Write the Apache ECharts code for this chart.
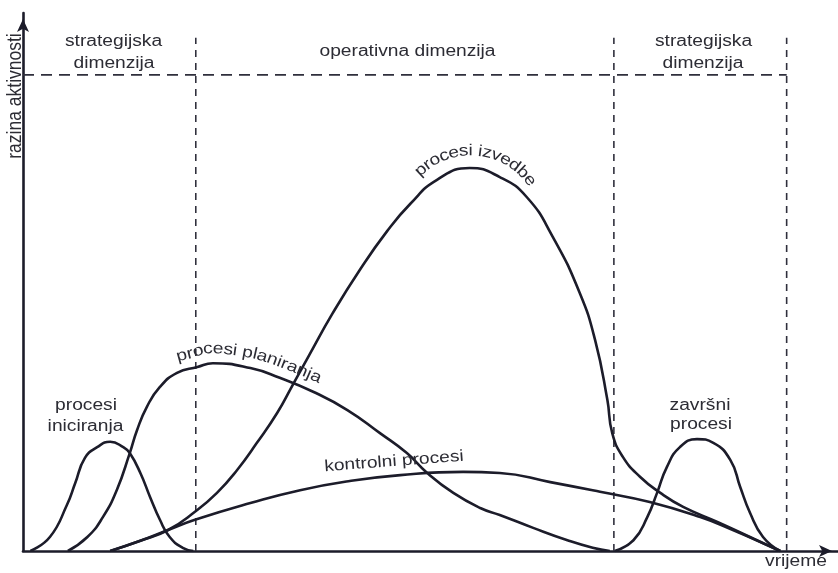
<!DOCTYPE html>
<html>
<head>
<meta charset="utf-8">
<script src="https://cdn.jsdelivr.net/npm/echarts@6/dist/echarts.min.js"></script>
<style>
html,body{margin:0;padding:0;background:#ffffff;}
#c{width:838px;height:573px;}
</style>
</head>
<body>
<div id="c"></div>
<script>
// ---- data (time 0..100, activity level 0..100) ----
const timeIniciranja  = [0.9, 3.3, 5.4, 6.4, 7.6, 9.1, 10.7, 12.3, 13.1, 14.4, 15.6, 16.8, 18.0, 19.6, 20.9];
const levelIniciranja = [0, 2.6, 8.6, 12.6, 17.3, 19.3, 20.3, 19.3, 18.2, 14.5, 10.0, 5.8, 2.6, 0.6, 0];

const timePlaniranja  = [5.5, 7.9, 9.8, 11.5, 13.1, 14.0, 15.2, 16.8, 18.9, 21.4, 23.3, 27.9, 31.5, 35.6, 39.8, 43.8, 47.1, 49.6, 52.8, 56.1, 58.5, 62.6, 66.8, 69.9, 72.0];
const levelPlaniranja = [0, 2.6, 6.3, 11.3, 18.2, 22.5, 26.8, 30.5, 33.1, 34.2, 34.9, 34.0, 32.2, 29.6, 26.2, 21.9, 18.2, 14.5, 10.8, 8.0, 6.7, 4.3, 2.0, 0.6, 0];

const timeIzvedbe  = [10.7, 14.4, 17.8, 21.1, 23.8, 26.3, 28.7, 31.2, 33.1, 35.0, 38.0, 41.3, 44.7, 47.5, 50.8, 54.8, 58.5, 61.8, 65.0, 68.3, 70.2, 71.7, 72.3, 73.6, 75.7, 78.2, 81.0, 85.2, 89.2, 92.9];
const levelIzvedbe = [0, 1.9, 3.9, 7.3, 10.8, 15.1, 20.1, 25.7, 30.9, 36.1, 44.2, 52.2, 59.5, 64.5, 69.0, 71.2, 69.5, 65.8, 58.4, 48.0, 39.2, 28.1, 21.9, 17.5, 13.8, 10.8, 8.2, 5.4, 2.6, 0];

const timeKontrolni  = [10.7, 14.4, 17.8, 21.1, 27.9, 34.0, 40.1, 46.3, 54.0, 58.5, 64.7, 70.8, 76.9, 83.1, 87.1, 91.3, 92.9];
const levelKontrolni = [0, 1.9, 3.9, 5.8, 8.9, 11.3, 13.0, 14.1, 14.7, 14.5, 12.8, 11.0, 9.1, 6.3, 3.9, 1.1, 0];

const timeZavrsni  = [72.6, 74.9, 76.6, 77.8, 79.0, 80.6, 82.7, 84.7, 86.8, 88.0, 89.2, 90.8, 92.9];
const levelZavrsni = [0, 2.0, 6.3, 10.8, 15.6, 19.3, 20.8, 20.1, 16.9, 11.9, 7.1, 2.6, 0];

const phaseBoundaries = [21.2, 72.5, 93.7];
const boundaryTop = 95.4;
const dimensionLevel = 88.5;

// ---- texts ----
const axisNameY = 'razina aktivnosti';
const axisNameX = 'vrijeme';
const labelStrategic = ['strategijska', 'dimenzija'];
const labelOperative = 'operativna dimenzija';
const labelIniciranja = ['procesi', 'iniciranja'];
const labelZavrsni = ['završni', 'procesi'];
const labelPlaniranja = 'procesi planiranja';
const labelIzvedbe = 'procesi izvedbe';
const labelKontrolni = 'kontrolni procesi';

// ---- styles ----
const INK = '#1c1c2a';
const DASH = '#2f2f3c';
const TXT = '#2c2c34';
const FAM = '"Liberation Sans", Arial, Helvetica, sans-serif';
const FS = 16;
const SX = 1.2;

const chart = echarts.init(document.getElementById('c'), null, {renderer: 'canvas'});

function pairs(xs, ys) { return xs.map((x, i) => [x, ys[i]]); }

function curve(name, xs, ys) {
  return {
    name, type: 'line', data: pairs(xs, ys), smooth: 0.5,
    symbol: 'none', silent: true, z: 3,
    lineStyle: {color: INK, width: 2.6}
  };
}
function dashed(data, dash) {
  return {
    type: 'line', data, symbol: 'none', silent: true, z: 2,
    lineStyle: {color: DASH, width: 1.6, type: dash}
  };
}

const axisCommon = {
  type: 'value', min: 0, max: 100,
  axisLine: {show: true, onZero: true, symbol: ['none', 'arrow'], symbolSize: [9, 13], symbolOffset: [0, -6],
    lineStyle: {color: INK, width: 2.6}},
  axisTick: {show: false}, axisLabel: {show: false}, splitLine: {show: false}
};

const series = [];
phaseBoundaries.forEach(b => series.push(dashed([[b, 0], [b, boundaryTop]], [7, 6])));
series.push(dashed([[0, dimensionLevel], [phaseBoundaries[2], dimensionLevel]], [11, 7]));
series.push(curve('procesi iniciranja', timeIniciranja, levelIniciranja));
series.push(curve('procesi planiranja', timePlaniranja, levelPlaniranja));
series.push(curve('procesi izvedbe', timeIzvedbe, levelIzvedbe));
series.push(curve('kontrolni procesi', timeKontrolni, levelKontrolni));
series.push(curve('završni procesi', timeZavrsni, levelZavrsni));

chart.setOption({
  animation: false,
  backgroundColor: '#ffffff',
  grid: {left: 23, right: 0, top: 13, bottom: 22},
  xAxis: axisCommon,
  yAxis: axisCommon,
  series
});

// ---- text helpers ----
function txt(str, x, y, o) {
  o = o || {};
  return {
    type: 'text', x, y, rotation: o.rotation || 0, scaleX: o.scaleX || SX, scaleY: o.scaleY || 1,
    silent: true, z: 20,
    style: {text: str, font: (o.size || FS) + 'px ' + FAM, fill: TXT,
      align: 'center', verticalAlign: 'middle', textAlign: 'center', textVerticalAlign: 'middle'}
  };
}

const mctx = document.createElement('canvas').getContext('2d');
function charWidths(str, size, sx) {
  mctx.font = size + 'px ' + FAM;
  return Array.from(str).map(ch => mctx.measureText(ch).width * sx);
}

function pathCum(pts) {
  const cum = [0];
  for (let i = 1; i < pts.length; i++) {
    cum.push(cum[i - 1] + Math.hypot(pts[i][0] - pts[i - 1][0], pts[i][1] - pts[i - 1][1]));
  }
  return cum;
}
function pointAt(pts, cum, s) {
  if (s <= 0) {
    const d = [pts[1][0] - pts[0][0], pts[1][1] - pts[0][1]], L = Math.hypot(d[0], d[1]) || 1;
    return [pts[0][0] + d[0] / L * s, pts[0][1] + d[1] / L * s];
  }
  for (let i = 1; i < pts.length; i++) {
    if (cum[i] >= s) {
      const t = (s - cum[i - 1]) / ((cum[i] - cum[i - 1]) || 1);
      return [pts[i - 1][0] + (pts[i][0] - pts[i - 1][0]) * t, pts[i - 1][1] + (pts[i][1] - pts[i - 1][1]) * t];
    }
  }
  return pts[pts.length - 1];
}
function layoutOnPath(str, pts, anchorS) {
  const cum = pathCum(pts);
  const ws = charWidths(str, FS, SX);
  const total = ws.reduce((a, b) => a + b, 0);
  let s = anchorS - total / 2;
  const out = [];
  Array.from(str).forEach((ch, i) => {
    const sc = s + ws[i] / 2;
    const p = pointAt(pts, cum, sc);
    const a = pointAt(pts, cum, sc - 6), b = pointAt(pts, cum, sc + 6);
    const ang = Math.atan2(b[1] - a[1], b[0] - a[0]);
    if (ch !== ' ') out.push(txt(ch, p[0], p[1], {rotation: -ang}));
    s += ws[i];
  });
  return out;
}

// dense catmull-rom through pixel points (label path only)
function densify(pts, n) {
  const out = [];
  for (let i = 0; i < pts.length - 1; i++) {
    const p0 = pts[Math.max(0, i - 1)], p1 = pts[i], p2 = pts[i + 1], p3 = pts[Math.min(pts.length - 1, i + 2)];
    for (let k = 0; k < n; k++) {
      const t = k / n, t2 = t * t, t3 = t2 * t;
      const f = (a, b, c, d) => 0.5 * ((2 * b) + (-a + c) * t + (2 * a - 5 * b + 4 * c - d) * t2 + (-a + 3 * b - 3 * c + d) * t3);
      out.push([f(p0[0], p1[0], p2[0], p3[0]), f(p0[1], p1[1], p2[1], p3[1])]);
    }
  }
  out.push(pts[pts.length - 1]);
  return out;
}

function buildGraphics() {
  const toPx = (x, y) => chart.convertToPixel({gridIndex: 0}, [x, y]);
  const g = [];

  // top dimension titles
  g.push(txt(labelStrategic[0], 113.5, 41.5));
  g.push(txt(labelStrategic[1], 114, 63.5));
  g.push(txt(labelOperative, 407.5, 52));
  g.push(txt(labelStrategic[0], 703.5, 41.5));
  g.push(txt(labelStrategic[1], 703, 63.5));

  // axis names
  g.push(txt(axisNameY, 15.5, 96, {rotation: Math.PI / 2, size: 17.5, scaleX: 1, scaleY: 1.2}));
  g.push(txt(axisNameX, 796, 562));

  // bell labels
  g.push(txt(labelIniciranja[0], 86, 405.5));
  g.push(txt(labelIniciranja[1], 85.5, 426.5));
  g.push(txt(labelZavrsni[0], 700, 406));
  g.push(txt(labelZavrsni[1], 701, 425));

  // kontrolni procesi (slightly tilted)
  g.push(txt(labelKontrolni, 394, 461.5, {rotation: 0.075}));

  // procesi planiranja: along the curve, offset above it
  const planPx = densify(pairs(timePlaniranja, levelPlaniranja).map(p => toPx(p[0], p[1])), 12);
  const off = 14.5;
  const offPts = planPx.map((p, i) => {
    const a = planPx[Math.max(0, i - 3)], b = planPx[Math.min(planPx.length - 1, i + 3)];
    const dx = b[0] - a[0], dy = b[1] - a[1], L = Math.hypot(dx, dy) || 1;
    return [p[0] + dy / L * off, p[1] - dx / L * off];
  });
  const anchorPx = toPx(27.2, 0)[0];
  let ai = 0;
  for (let i = 0; i < planPx.length; i++) { if (planPx[i][0] >= anchorPx) { ai = i; break; } }
  const offCum = pathCum(offPts);
  layoutOnPath(labelPlaniranja, offPts, offCum[ai]).forEach(e => g.push(e));

  // procesi izvedbe: arc over the peak
  let pk = 0;
  levelIzvedbe.forEach((v, i) => { if (v > levelIzvedbe[pk]) pk = i; });
  const peak = toPx(timeIzvedbe[pk], levelIzvedbe[pk]);
  const R = 74, cx = peak[0] + 1, cy = peak[1] + 57;
  const arc = [];
  for (let d = -90; d <= 90; d += 1) {
    const t = d * Math.PI / 180;
    arc.push([cx + R * Math.sin(t), cy - R * Math.cos(t)]);
  }
  layoutOnPath(labelIzvedbe, arc, R * (95.4 * Math.PI / 180)).forEach(e => g.push(e));

  return g;
}

chart.setOption({graphic: {elements: buildGraphics()}});
</script>
</body>
</html>
